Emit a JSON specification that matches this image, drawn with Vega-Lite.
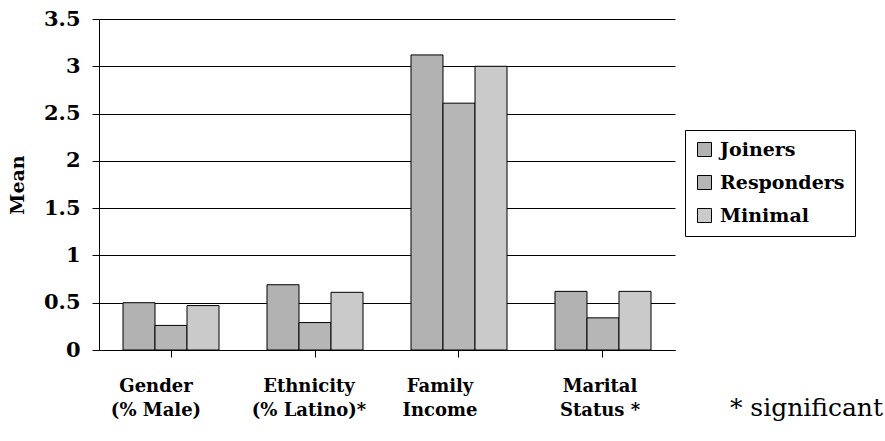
{
  "$schema": "https://vega.github.io/schema/vega-lite/v6.json",
  "width": 576,
  "height": 331,
  "autosize": "none",
  "padding": {"left": 99, "top": 19, "right": 210, "bottom": 91},
  "background": "white",
  "config": {
    "font": "DejaVu Serif",
    "view": {"stroke": null}
  },
  "title": {
    "text": "* significant",
    "orient": "bottom",
    "anchor": "end",
    "frame": "group",
    "align": "right",
    "dx": 208,
    "dy": -27,
    "font": "DejaVu Serif",
    "fontSize": 25,
    "fontWeight": "normal",
    "color": "black"
  },
  "data": {
    "values": [
      {"measure": "Gender (% Male)", "group": "Joiners", "mean": 0.5},
      {"measure": "Gender (% Male)", "group": "Responders", "mean": 0.26},
      {"measure": "Gender (% Male)", "group": "Minimal", "mean": 0.47},
      {"measure": "Ethnicity (% Latino)*", "group": "Joiners", "mean": 0.69},
      {"measure": "Ethnicity (% Latino)*", "group": "Responders", "mean": 0.29},
      {"measure": "Ethnicity (% Latino)*", "group": "Minimal", "mean": 0.61},
      {"measure": "Family Income", "group": "Joiners", "mean": 3.12},
      {"measure": "Family Income", "group": "Responders", "mean": 2.61},
      {"measure": "Family Income", "group": "Minimal", "mean": 3.0},
      {"measure": "Marital Status *", "group": "Joiners", "mean": 0.62},
      {"measure": "Marital Status *", "group": "Responders", "mean": 0.34},
      {"measure": "Marital Status *", "group": "Minimal", "mean": 0.62}
    ]
  },
  "mark": {"type": "bar", "stroke": "#000000", "strokeWidth": 1},
  "encoding": {
    "x": {
      "field": "measure",
      "type": "nominal",
      "sort": ["Gender (% Male)", "Ethnicity (% Latino)*", "Family Income", "Marital Status *"],
      "scale": {"paddingInner": 0.33333, "paddingOuter": 0.166667},
      "axis": {
        "title": null,
        "grid": false,
        "domain": true,
        "domainColor": "#000000",
        "tickColor": "#000000",
        "tickSize": 7,
        "labelAngle": 0,
        "labelFont": "DejaVu Serif",
        "labelFontSize": 18,
        "labelFontWeight": "bold",
        "labelColor": "#000000",
        "labelLineHeight": 24,
        "labelPadding": 20,
        "labelOffset": {
          "condition": [
            {"test": "datum.value == 'Gender (% Male)'", "value": -15},
            {"test": "datum.value == 'Ethnicity (% Latino)*'", "value": -6},
            {"test": "datum.value == 'Family Income'", "value": -19}
          ],
          "value": -3
        },
        "labelExpr": "[substring(datum.value, 0, indexof(datum.value, ' ')), substring(datum.value, indexof(datum.value, ' ') + 1)]"
      }
    },
    "xOffset": {
      "field": "group",
      "sort": ["Joiners", "Responders", "Minimal"]
    },
    "y": {
      "field": "mean",
      "type": "quantitative",
      "scale": {"domain": [0, 3.5], "nice": false},
      "axis": {
        "title": "Mean",
        "titleFont": "DejaVu Serif",
        "titleFontSize": 19,
        "titleFontWeight": "bold",
        "titleColor": "#000000",
        "titlePadding": 16,
        "values": [0, 0.5, 1, 1.5, 2, 2.5, 3, 3.5],
        "format": "~g",
        "grid": true,
        "gridColor": "#000000",
        "gridOpacity": 1,
        "domainColor": "#000000",
        "tickColor": "#000000",
        "tickSize": 7,
        "labelFont": "DejaVu Serif",
        "labelFontSize": 21,
        "labelFontWeight": "bold",
        "labelColor": "#000000",
        "labelPadding": 12
      }
    },
    "color": {
      "field": "group",
      "type": "nominal",
      "scale": {
        "domain": ["Joiners", "Responders", "Minimal"],
        "range": ["#b2b2b2", "#b6b6b6", "#cacaca"]
      },
      "legend": {
        "title": null,
        "orient": "none",
        "legendX": 586,
        "legendY": 111,
        "fillColor": "#ffffff",
        "strokeColor": "#000000",
        "padding": 10,
        "symbolType": "square",
        "symbolSize": 196,
        "symbolStrokeColor": "#000000",
        "symbolStrokeWidth": 1,
        "labelFont": "DejaVu Serif",
        "labelFontSize": 19,
        "labelFontWeight": "bold",
        "labelColor": "#000000",
        "labelOffset": 6,
        "rowPadding": 13
      }
    }
  }
}
